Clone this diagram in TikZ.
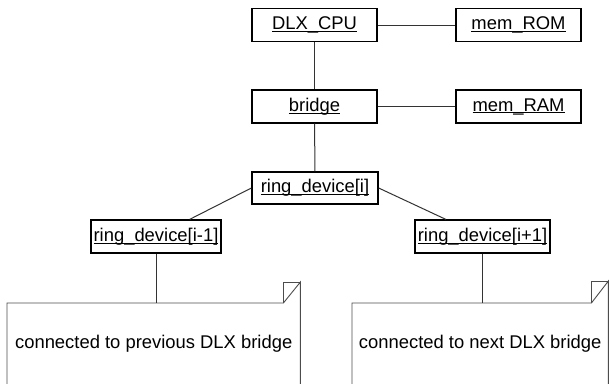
\documentclass[tikz,border=0pt]{standalone}
\usepackage{fontspec}
\setmainfont{Liberation Sans}
\newcommand{\uln}[1]{\setbox0\hbox{#1}\rlap{\rule[-2.2pt]{\wd0}{0.9pt}}\box0}
\tikzset{
  obj/.style={draw=black, line width=1.3pt, inner sep=0pt, minimum height=33pt,
    font=\fontsize{18.4}{22}\selectfont},
  link/.style={draw=black!80, line width=1pt},
  notebox/.style={inner xsep=0pt, inner ysep=0pt, text height=45pt, text depth=55pt,
    font=\fontsize{18.4}{22}\selectfont},
  noteline/.style={draw=black!70, line width=0.9pt},
}
\begin{document}
\begin{tikzpicture}[x=1pt,y=-1pt]
\useasboundingbox (0,0) rectangle (609,383);
\clip (0,0) rectangle (609,383);
\node[obj, minimum width=125pt] (cpu) at (314.5,25) {\uln{DLX\_CPU}};
\node[obj, minimum width=125pt] (rom) at (518.5,25) {\uln{mem\_ROM}};
\node[obj, minimum width=125pt] (bridge) at (314.5,106.5) {\uln{bridge}};
\node[obj, minimum width=125pt] (ram) at (518.5,106.5) {\uln{mem\_RAM}};
\node[obj, minimum width=126pt, minimum height=32pt] (ri) at (315,188) {\uln{ring\_device[i]}};
\node[obj, minimum width=130pt] (rim1) at (156,236.5) {\uln{ring\_device[i-1]}};
\node[obj, minimum width=135pt] (rip1) at (482.5,236.5) {\uln{ring\_device[i+1]}};
\node[notebox, minimum width=293pt, anchor=north west] (n1) at (7,303) {connected to previous DLX bridge};
\node[notebox, minimum width=256pt, anchor=north west] (n2) at (352,303) {connected to next DLX bridge};
% note outlines
\draw[noteline] (n1.south west) -- (n1.north west) -- ([xshift=-17pt]n1.north east) -- ([yshift=21pt]n1.north east) -- (n1.south east);
\draw[noteline] ([xshift=-17pt]n1.north east) -- ([xshift=-17pt,yshift=21pt]n1.north east) -- ([yshift=21pt]n1.north east);
\draw[noteline] (n2.south west) -- (n2.north west) -- ([xshift=-17pt]n2.north east) -- ([yshift=22pt]n2.north east) -- (n2.south east);
\draw[noteline] ([xshift=-17pt]n2.north east) -- ([xshift=-17pt,yshift=22pt]n2.north east) -- ([yshift=22pt]n2.north east);
% connectors
\draw[link] (cpu) -- (rom);
\draw[link] (cpu) -- (bridge);
\draw[link] (bridge) -- (ram);
\draw[link] (bridge) -- (ri);
\draw[link] (ri.west) -- (rim1);
\draw[link] (ri.east) -- (rip1);
\draw[link] (rim1) -- (rim1 |- n1.north);
\draw[link] (rip1) -- (rip1 |- n2.north);
\end{tikzpicture}
\end{document}
